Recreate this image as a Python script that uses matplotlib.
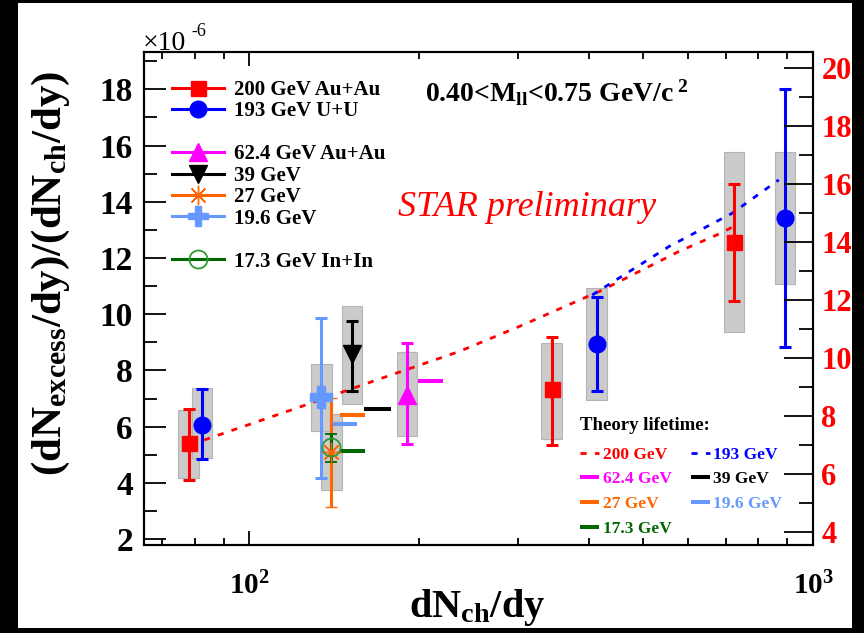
import math
import matplotlib
matplotlib.use("Agg")
import matplotlib.pyplot as plt
from matplotlib.patches import Rectangle
from matplotlib.lines import Line2D
from matplotlib.ticker import MultipleLocator, FixedLocator, FuncFormatter, NullFormatter, LogLocator

plt.rcParams["font.family"] = ["Liberation Serif", "DejaVu Serif"]
plt.rcParams["mathtext.fontset"] = "custom"
plt.rcParams["mathtext.rm"] = "Liberation Serif:bold"
plt.rcParams["mathtext.bf"] = "Liberation Serif:bold"
plt.rcParams["mathtext.it"] = "Liberation Serif:italic:bold"

# ---- measured excess yield ratio (units of 1e-6) vs dNch/dy ----
auau200_dnch = [78.0, 343.7, 723.5]
auau200_ratio = [5.41, 7.33, 12.58]
auau200_stat_lo = [1.31, 1.98, 2.10]
auau200_stat_hi = [1.22, 1.86, 2.04]
auau200_sys_lo = [1.25, 1.78, 3.22]
auau200_sys_hi = [1.18, 1.63, 3.18]

uu193_dnch = [82.5, 413.0, 893.0]
uu193_ratio = [6.06, 8.94, 13.41]
uu193_stat_lo = [1.21, 1.67, 4.57]
uu193_stat_hi = [1.28, 1.66, 4.59]
uu193_sys_lo = [1.18, 1.99, 2.34]
uu193_sys_hi = [1.31, 2.00, 2.35]

auau62_dnch = [190.6]
auau62_ratio = [7.12]
auau62_stat_lo = [1.75]
auau62_stat_hi = [1.84]
auau62_sys_lo = [1.45]
auau62_sys_hi = [1.55]

auau39_dnch = [152.2]
auau39_ratio = [8.58]
auau39_stat_lo = [1.30]
auau39_stat_hi = [1.19]
auau39_sys_lo = [1.79]
auau39_sys_hi = [1.72]

auau27_dnch = [139.8]
auau27_ratio = [5.11]
auau27_stat_lo = [1.96]
auau27_stat_hi = [1.92]
auau27_sys_lo = [1.37]
auau27_sys_hi = [1.34]

auau19_dnch = [134.2]
auau19_ratio = [7.06]
auau19_stat_lo = [2.90]
auau19_stat_hi = [2.79]
auau19_sys_lo = [1.21]
auau19_sys_hi = [1.16]

inin17_dnch = [139.8]
inin17_ratio = [5.26]
inin17_stat_lo = [0.51]
inin17_stat_hi = [0.48]

# ---- model fireball lifetime (fm/c), right axis ----
theory200_dnch = [83.1, 122.5, 169.8, 235.4, 300.8, 422.6, 578.0, 684.0, 719.0]
theory200_tau = [7.16, 8.29, 9.26, 10.21, 11.07, 12.33, 13.66, 14.28, 14.50]
theory193_dnch = [405.7, 554.9, 718.6, 869.4]
theory193_tau = [12.16, 13.83, 14.98, 16.13]

theory_bar_labels = ["62.4 GeV", "39 GeV", "27 GeV", "19.6 GeV", "17.3 GeV"]
theory_bar_tau = [9.21, 8.22, 8.02, 7.71, 6.77]
theory_bar_dnch_lo = [199.3, 159.9, 144.8, 140.9, 144.8]
theory_bar_dnch_hi = [220.5, 178.1, 160.4, 155.4, 160.4]

RED = "#ff0000"
BLUE = "#0000ff"
MAGENTA = "#ff00ff"
BLACK = "#000000"
ORANGE = "#ff6600"
LBLUE = "#6699ff"
GREEN = "#006600"
GREEN_MK = "#339933"
theory_bar_colors = [MAGENTA, BLACK, ORANGE, LBLUE, GREEN]

fig = plt.figure(figsize=(8.64, 6.33), dpi=100)
fig.patch.set_facecolor("black")
fig.add_artist(Rectangle((18 / 864, 5 / 633), (852 - 18) / 864, (630 - 5) / 633,
                         transform=fig.transFigure, facecolor="white",
                         edgecolor="none", zorder=0))

ax = fig.add_axes([144 / 864, 1 - 545 / 633, (813 - 144) / 864, (545 - 52) / 633])
ax.patch.set_visible(False)
ax.set_xscale("log")
ax.set_xlim(65, 1000)
ax.set_ylim(1.79, 19.33)
ax.set_autoscale_on(False)

ax2 = ax.twinx()
ax2.set_ylim(3.54, 20.54)
ax2.set_autoscale_on(False)

BOX_HALF = 0.018  # half width of systematic boxes in decades


def sys_boxes(x, y, lo, hi):
    for xi, yi, l, h in zip(x, y, lo, hi):
        x0 = xi * 10 ** (-BOX_HALF)
        x1 = xi * 10 ** BOX_HALF
        ax.add_patch(Rectangle((x0, yi - l), x1 - x0, l + h, facecolor="#cbcbcb",
                               edgecolor="#b4b4b4", lw=0.8, zorder=1))


sys_boxes(auau200_dnch, auau200_ratio, auau200_sys_lo, auau200_sys_hi)
sys_boxes(uu193_dnch, uu193_ratio, uu193_sys_lo, uu193_sys_hi)
sys_boxes(auau62_dnch, auau62_ratio, auau62_sys_lo, auau62_sys_hi)
sys_boxes(auau39_dnch, auau39_ratio, auau39_sys_lo, auau39_sys_hi)
sys_boxes(auau27_dnch, auau27_ratio, auau27_sys_lo, auau27_sys_hi)
sys_boxes(auau19_dnch, auau19_ratio, auau19_sys_lo, auau19_sys_hi)

# theory lifetimes, drawn in the right-axis frame
DASHES = (2.2, 3.0)
dash_kw = dict(lw=2.0, dashes=DASHES, transform=ax2.transData, zorder=2)
ax.plot(theory200_dnch, theory200_tau, color=RED, **dash_kw)
ax.plot(theory193_dnch, theory193_tau, color=BLUE, **dash_kw)
for tau, lo, hi, c in zip(theory_bar_tau, theory_bar_dnch_lo, theory_bar_dnch_hi, theory_bar_colors):
    ax.plot([lo, hi], [tau, tau], color=c, lw=2.9, solid_capstyle="butt",
            transform=ax2.transData, zorder=2)

eb_kw = dict(lw=2.2, capsize=4.2, capthick=2.2, zorder=3, ls="none")
ax.errorbar(auau19_dnch, auau19_ratio, yerr=[auau19_stat_lo, auau19_stat_hi], color=LBLUE,
            marker="P", ms=16, **eb_kw)
ax.errorbar(auau27_dnch, auau27_ratio, yerr=[auau27_stat_lo, auau27_stat_hi], color=ORANGE,
            marker=(8, 2, 0), ms=14, mew=1.0, **eb_kw)
ax.errorbar(inin17_dnch, inin17_ratio, yerr=[inin17_stat_lo, inin17_stat_hi], color=GREEN,
            marker="o", ms=13, mfc="none", mec=GREEN_MK, mew=1.3, **eb_kw)
ax.errorbar(auau39_dnch, auau39_ratio, yerr=[auau39_stat_lo, auau39_stat_hi], color=BLACK,
            marker="v", ms=13.5, **eb_kw)
ax.errorbar(auau62_dnch, auau62_ratio, yerr=[auau62_stat_lo, auau62_stat_hi], color=MAGENTA,
            marker="^", ms=13.5, **eb_kw)
ax.errorbar(auau200_dnch, auau200_ratio, yerr=[auau200_stat_lo, auau200_stat_hi], color=RED,
            marker="s", ms=10.8, **eb_kw)
ax.errorbar(uu193_dnch, uu193_ratio, yerr=[uu193_stat_lo, uu193_stat_hi], color=BLUE,
            marker="o", ms=12, **eb_kw)

# ---- axes styling ----
for a in (ax, ax2):
    for s in a.spines.values():
        s.set_linewidth(1.5)

ax.yaxis.set_major_locator(MultipleLocator(2))
ax.yaxis.set_minor_locator(MultipleLocator(1))
ax.tick_params(axis="y", which="major", direction="in", length=16, width=1.3,
               labelsize=24, pad=8, right=False)
ax.tick_params(axis="y", which="minor", direction="in", length=9, width=1.3, right=False)
for lab in ax.get_yticklabels():
    lab.set_fontweight("bold")

ax.xaxis.set_major_locator(FixedLocator([100, 1000]))
ax.xaxis.set_minor_locator(LogLocator(base=10, subs=range(2, 10)))
ax.xaxis.set_major_formatter(FuncFormatter(lambda v, p: r"$\mathbf{10^{%d}}$" % round(math.log10(v))))
ax.xaxis.set_minor_formatter(NullFormatter())
ax.tick_params(axis="x", which="major", direction="in", length=10, width=1.3,
               top=True, labelsize=21, pad=19)
ax.tick_params(axis="x", which="minor", direction="in", length=5, width=1.3, top=True)

ax2.yaxis.set_major_locator(MultipleLocator(2))
ax2.yaxis.set_minor_locator(MultipleLocator(1))
ax2.tick_params(axis="y", which="major", direction="in", length=21, width=1.3,
                labelsize=22, pad=6, colors=RED)
ax2.tick_params(axis="y", which="minor", direction="in", length=10, width=1.3, colors="black")
ax2.tick_params(axis="y", which="major", color="black")
for lab in ax2.get_yticklabels():
    lab.set_fontweight("bold")

ax.set_xlabel(r"dN$_{\mathrm{ch}}$/dy", fontsize=29, fontweight="bold")
ax.xaxis.set_label_coords(0.498, -0.085)
ax.set_ylabel(r"(dN$_{\mathrm{excess}}$/dy)/(dN$_{\mathrm{ch}}$/dy)", fontsize=31,
              fontweight="bold")
ax.yaxis.set_label_coords(-0.108, 0.55)

fig.text(143 / 864, 1 - 50 / 633, "\u00d710", fontsize=20, va="baseline", ha="left")
fig.text(191 / 864, 1 - 36 / 633, "-6", fontsize=13, va="baseline", ha="left")

ax.text(0.42, 0.917, r"0.40<M$_{\mathrm{ll}}$<0.75 GeV/c$^{\ 2}$", transform=ax.transAxes,
        fontsize=20, fontweight="bold", va="center", ha="left")
ax.text(0.38, 0.684, "STAR preliminary", transform=ax.transAxes, fontsize=26,
        style="italic", color=RED, va="center", ha="left")

# ---- data legend ----
blank = Line2D([], [], color="none")
data_handles = [
    Line2D([], [], color=RED, lw=2.2, marker="s", ms=10.8),
    Line2D([], [], color=BLUE, lw=2.2, marker="o", ms=12),
    blank,
    Line2D([], [], color=MAGENTA, lw=2.2, marker="^", ms=13.5),
    Line2D([], [], color=BLACK, lw=2.2, marker="v", ms=13.5),
    Line2D([], [], color=ORANGE, lw=2.2, marker=(8, 2, 0), ms=14, mew=1.0),
    Line2D([], [], color=LBLUE, lw=2.2, marker="P", ms=14),
    blank,
    Line2D([], [], color=GREEN, lw=2.2, marker="o", ms=13, mfc="none", mec=GREEN_MK, mew=1.3),
]
data_labels = ["200 GeV Au+Au", "193 GeV U+U", " ", "62.4 GeV Au+Au", "39 GeV",
               "27 GeV", "19.6 GeV", " ", "17.3 GeV In+In"]
leg1 = ax.legend(data_handles, data_labels, loc="upper left",
                 bbox_to_anchor=(172 / 864, 1 - 80 / 633), bbox_transform=fig.transFigure,
                 frameon=False, prop={"family": "Liberation Serif", "weight": "bold", "size": 15},
                 handlelength=2.5, handletextpad=0.5, labelspacing=0.07, borderpad=0,
                 borderaxespad=0)
ax.add_artist(leg1)

# ---- theory legend ----
th_handles = [
    Line2D([], [], color=RED, lw=2.0, dashes=DASHES),
    Line2D([], [], color=MAGENTA, lw=2.9, solid_capstyle="butt"),
    Line2D([], [], color=ORANGE, lw=2.9, solid_capstyle="butt"),
    Line2D([], [], color=GREEN, lw=2.9, solid_capstyle="butt"),
    Line2D([], [], color=BLUE, lw=2.0, dashes=DASHES),
    Line2D([], [], color=BLACK, lw=2.9, solid_capstyle="butt"),
    Line2D([], [], color=LBLUE, lw=2.9, solid_capstyle="butt"),
]
th_labels = ["200 GeV", "62.4 GeV", "27 GeV", "17.3 GeV", "193 GeV", "39 GeV", "19.6 GeV"]
leg2 = ax.legend(th_handles, th_labels, ncol=2, loc="upper left",
                 bbox_to_anchor=(580 / 864, 1 - 417 / 633), bbox_transform=fig.transFigure,
                 frameon=False, prop={"family": "Liberation Serif", "weight": "bold", "size": 12.5},
                 title="Theory lifetime:",
                 title_fontproperties={"family": "Liberation Serif", "weight": "bold", "size": 13.5},
                 alignment="left", labelcolor="linecolor", handlelength=1.1,
                 handletextpad=0.2, labelspacing=0.5, columnspacing=1.1,
                 borderpad=0, borderaxespad=0)
# extra room between the title and the first row
leg2._legend_box.sep = 9

fig.savefig("out.png", dpi=100, facecolor=fig.get_facecolor())
